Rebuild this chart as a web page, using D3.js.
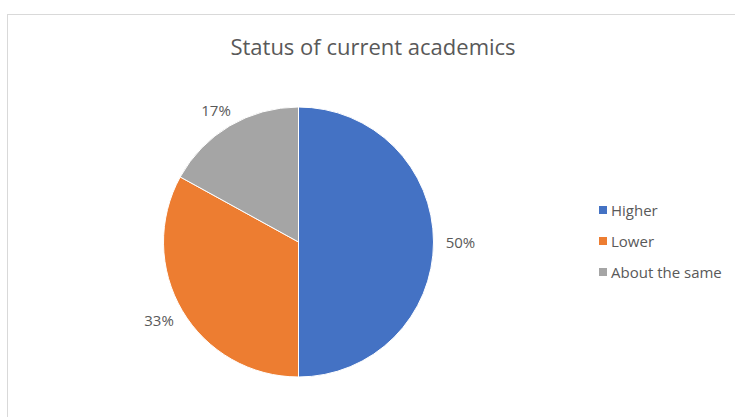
<!DOCTYPE html>
<html>
<head>
<meta charset="utf-8">
<script src="https://cdn.jsdelivr.net/npm/d3@7"></script>
<style>
  html, body { margin: 0; padding: 0; background: #fff; }
  svg { display: block; }
</style>
</head>
<body>
<svg id="chart" width="735" height="417"></svg>
<script>
// Survey responses: status of current academics
const categories = ["Higher", "Lower", "About the same"];
const values = [50, 33, 17];
const colors = ["#4472C4", "#ED7D31", "#A5A5A5"];
const title = "Status of current academics";

const svg = d3.select("#chart");
const textColor = "#595959";
const font = "'Open Sans', sans-serif";

// chart area border
svg.append("rect")
  .attr("x", 7.5).attr("y", 14.5)
  .attr("width", 760).attr("height", 440)
  .attr("fill", "#fff")
  .attr("stroke", "#D9D9D9")
  .attr("stroke-width", 1);

// title
svg.append("text")
  .attr("x", 373).attr("y", 55)
  .attr("text-anchor", "middle")
  .attr("font-family", font)
  .attr("font-size", 22)
  .attr("fill", textColor)
  .text(title);

const cx = 298.5, cy = 242, r = 135;
const color = d3.scaleOrdinal().domain(categories).range(colors);

const pie = d3.pie().sort(null).value(d => d.value);
const data = pie(categories.map((c, i) => ({ name: c, value: values[i] })));
const arc = d3.arc().innerRadius(0).outerRadius(r);

const g = svg.append("g").attr("transform", `translate(${cx},${cy})`);
g.selectAll("path")
  .data(data)
  .join("path")
  .attr("d", arc)
  .attr("fill", d => color(d.data.name))
  .attr("stroke", "#fff")
  .attr("stroke-width", 1);

// percentage labels just outside the slice edge: the label box's nearest
// corner sits a small gap beyond the rim along the slice's mid angle
const total = d3.sum(values);
const gap = 12, halfW = 15, halfH = 6;
g.selectAll("text.pct")
  .data(data)
  .join("text")
  .attr("class", "pct")
  .attr("transform", d => {
    const a = (d.startAngle + d.endAngle) / 2;
    const dx = Math.sin(a), dy = -Math.cos(a);
    const x = dx * (r + gap) + dx * halfW;
    const y = dy * (r + gap) + dy * halfH;
    return `translate(${x},${y})`;
  })
  .attr("text-anchor", "middle")
  .attr("dominant-baseline", "central")
  .attr("font-family", font)
  .attr("font-size", 15)
  .attr("fill", textColor)
  .text(d => Math.round(d.data.value / total * 100) + "%");

// legend
const legend = svg.append("g").attr("transform", "translate(599,206)");
const items = legend.selectAll("g")
  .data(categories)
  .join("g")
  .attr("transform", (d, i) => `translate(0,${i * 31})`);
items.append("rect")
  .attr("width", 8).attr("height", 8)
  .attr("fill", d => color(d));
items.append("text")
  .attr("x", 12).attr("y", 4)
  .attr("dominant-baseline", "central")
  .attr("font-family", font)
  .attr("font-size", 15)
  .attr("fill", textColor)
  .text(d => d);
</script>
</body>
</html>
